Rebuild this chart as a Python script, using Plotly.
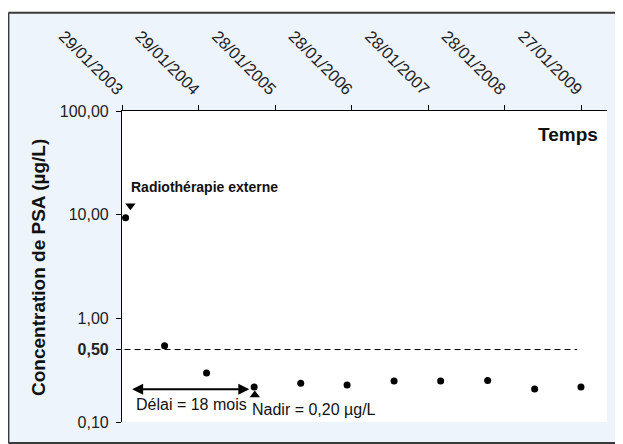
import math
import plotly.graph_objects as go

# ---- data ----
dates = ["2003-02-15", "2003-08-20", "2004-03-07", "2004-10-20", "2005-05-30",
         "2006-01-06", "2006-08-18", "2007-03-28", "2007-11-07", "2008-06-18",
         "2009-01-25"]
psa = [9.33, 0.544, 0.297, 0.218, 0.236, 0.227, 0.249, 0.249, 0.252, 0.208, 0.218]

tick_dates = ["2003-01-29", "2004-01-29", "2005-01-28", "2006-01-28",
              "2007-01-28", "2008-01-28", "2009-01-27"]
tick_labels = ["29/01/2003", "29/01/2004", "28/01/2005", "28/01/2006",
               "28/01/2007", "28/01/2008", "27/01/2009"]
y_ticks = [0.1, 0.5, 1, 10, 100]
y_tick_labels = ["0,10", "<b>0,50</b>", "1,00", "10,00", "100,00"]

threshold = 0.5
threshold_span = ["2003-02-10", "2009-01-07"]
radio_marker = ("2003-03-10", 12.2)
nadir_marker = ("2004-10-23", 0.182)
delay_span = ["2003-03-11", "2004-09-27"]
delay_level = 0.207

x_range = ["2003-01-29", "2009-05-29"]

FONT = "Liberation Sans, Arial, sans-serif"
FRAME = "#3a3a3a"
PANEL = "#EEF4FB"

fig = go.Figure()

# panel: light-blue paper, white strips outside the frame, frame borders
fx0, fx1, fy0, fy1 = -0.2342, 1.2, -0.0675, 1.316
fig.add_shape(type="rect", xref="paper", yref="paper",
              x0=-0.4, x1=fx1, y0=fy1, y1=1.5,
              line=dict(width=0), fillcolor="white", layer="below")
fig.add_shape(type="rect", xref="paper", yref="paper",
              x0=-0.4, x1=fx0, y0=-0.2, y1=1.5,
              line=dict(width=0), fillcolor="white", layer="below")
fig.add_shape(type="line", xref="paper", yref="paper", x0=fx0, x1=fx0, y0=fy0, y1=fy1,
              line=dict(color=FRAME, width=2), layer="below")
fig.add_shape(type="line", xref="paper", yref="paper", x0=fx0, x1=fx1, y0=fy1, y1=fy1,
              line=dict(color=FRAME, width=2), layer="below")
fig.add_shape(type="line", xref="paper", yref="paper", x0=fx0, x1=fx1, y0=fy0, y1=fy0,
              line=dict(color=FRAME, width=2), layer="below")

# dashed threshold line
fig.add_trace(go.Scatter(x=threshold_span, y=[threshold, threshold], mode="lines",
                         line=dict(color="black", width=1, dash="6px,4px"),
                         hoverinfo="skip", showlegend=False))

# data points
fig.add_trace(go.Scatter(x=dates, y=psa, mode="markers",
                         marker=dict(color="black", size=7),
                         showlegend=False))

# event markers
fig.add_trace(go.Scatter(x=[radio_marker[0]], y=[radio_marker[1]], mode="markers",
                         marker=dict(symbol="triangle-down", color="black", size=9),
                         showlegend=False))
fig.add_trace(go.Scatter(x=[nadir_marker[0]], y=[nadir_marker[1]], mode="markers",
                         marker=dict(symbol="triangle-up", color="black", size=9),
                         showlegend=False))

# double arrow (délai)
fig.add_annotation(x=delay_span[1], y=math.log10(delay_level),
                   ax=delay_span[0], ay=math.log10(delay_level),
                   xref="x", yref="y", axref="x", ayref="y",
                   text="", showarrow=True, arrowhead=2, startarrowhead=2,
                   arrowside="end+start", arrowsize=1, arrowwidth=2.2,
                   arrowcolor="black")

# texts
fig.add_annotation(xref="paper", yref="paper", x=0.0135, y=0.757,
                   xanchor="left", yanchor="middle", showarrow=False,
                   text="<b>Radiothérapie externe</b>",
                   font=dict(family=FONT, size=14, color="#111"))
fig.add_annotation(xref="paper", yref="paper", x=0.985, y=0.925,
                   xanchor="right", yanchor="middle", showarrow=False,
                   text="<b>Temps</b>",
                   font=dict(family=FONT, size=19, color="#111"))
fig.add_annotation(xref="paper", yref="paper", x=0.024, y=0.0547,
                   xanchor="left", yanchor="middle", showarrow=False,
                   text="Délai = 18 mois",
                   font=dict(family=FONT, size=16, color="#111"))
fig.add_annotation(xref="paper", yref="paper", x=0.2635, y=0.0408,
                   xanchor="left", yanchor="middle", showarrow=False,
                   text="Nadir = 0,20 µg/L",
                   font=dict(family=FONT, size=16, color="#111"))
fig.add_annotation(xref="paper", yref="paper", x=-0.172, y=0.497,
                   xanchor="center", yanchor="middle", showarrow=False,
                   textangle=-90,
                   text="<b>Concentration de PSA (µg/L)</b>",
                   font=dict(family=FONT, size=19, color="#111"))

fig.update_layout(
    template="none",
    width=615, height=436,
    margin=dict(l=114, r=16, t=103, b=22),
    paper_bgcolor=PANEL,
    plot_bgcolor="white",
    showlegend=False,
    font=dict(family=FONT, size=16, color="#222"),
    xaxis=dict(type="date", range=x_range, side="top",
               tickmode="array", tickvals=tick_dates, ticktext=tick_labels,
               tickangle=45, ticks="outside", ticklen=5, tickwidth=1.2,
               tickcolor="black", showline=True, linecolor="black", linewidth=1.2,
               showgrid=False, zeroline=False, automargin=False,
               tickfont=dict(family=FONT, size=16.5, color="#222")),
    yaxis=dict(type="log", range=[-1, 2],
               tickmode="array", tickvals=y_ticks, ticktext=y_tick_labels,
               ticks="outside", ticklen=5, tickwidth=1.2, tickcolor="black",
               ticklabelstandoff=4,
               showline=True, linecolor="black", linewidth=1.2,
               showgrid=False, zeroline=False, automargin=False,
               tickfont=dict(family=FONT, size=16, color="#222")),
)

fig.write_html("out.html")
